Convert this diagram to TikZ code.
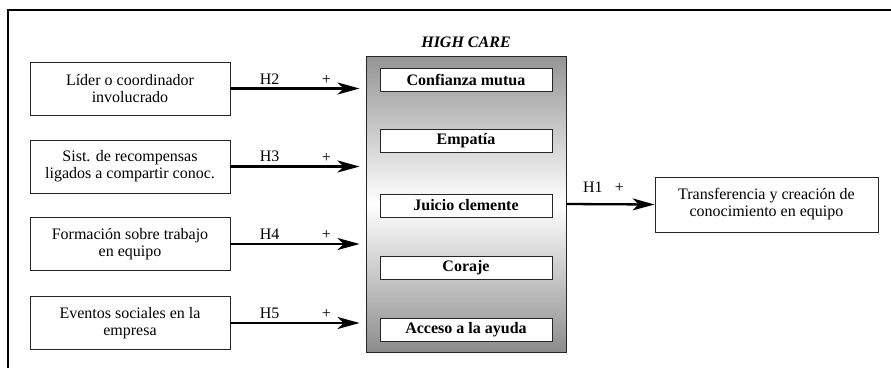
\documentclass[tikz,border=0pt]{standalone}
\usepackage{fontspec}
\setmainfont{Liberation Serif}
\usetikzlibrary{arrows.meta,positioning}
\begin{document}
\begin{tikzpicture}[x=1pt,y=-1pt,font=\fontsize{16}{17}\selectfont]
	\tikzstyle{cause}=[draw=black!85, line width=0.9pt, minimum width=200pt, minimum height=53pt, align=center, inner sep=2pt]
	\tikzstyle{facet}=[draw=black!85, line width=0.9pt, fill=white, minimum width=172pt, minimum height=23pt, inner sep=1pt, font=\fontsize{16}{17}\selectfont\bfseries]
	\tikzstyle{link}=[-{Stealth[length=22pt,width=12pt,inset=6pt]}, line width=2.3pt]
	\useasboundingbox (0,0) rectangle (891,368);
	\draw[line width=1.1pt] (8,368) -- (8,10) -- (891,10);
	% causes on the left
	\node[cause] (c2) at (130,88.5) {Líder o coordinador\\involucrado};
	\node[cause] (c3) at (130,166.5) {Sist. de recompensas\\ligados a compartir conoc.};
	\node[cause] (c4) at (130,244) {Formación sobre trabajo\\en equipo};
	\node[cause] (c5) at (130,323) {Eventos sociales en la\\empresa};
	% high care block
	\node[draw=black!85, line width=0.9pt, minimum width=200pt, minimum height=296pt, top color=black!42, bottom color=black!45, middle color=white] (care) at (466,204) {};
	\node[font=\fontsize{16}{17}\selectfont\bfseries\itshape, above=4pt of care.north] (title) {HIGH CARE};
	\node[facet] (f1) at (466,79.5) {Confianza mutua};
	\node[facet] (f2) at (466,140.5) {Empatía};
	\node[facet] (f3) at (466,205.5) {Juicio clemente};
	\node[facet] (f4) at (466,268) {Coraje};
	\node[facet] (f5) at (466,330) {Acceso a la ayuda};
	% outcome
	\node[cause, minimum width=223pt, minimum height=55pt] (out) at (766.5,204.5) {Transferencia y creación de\\conocimiento en equipo};
	\foreach \i in {2,...,5}{
		\draw[link, shorten >=6pt] (c\i.east) -- (c\i.east -| care.west)
			node[pos=0.29, above=0pt] {H\i} node[pos=0.71, above=0pt] {+};
		}
	\draw[link] (care.east) -- (out.west)
		node[pos=0.3, above=7pt] {H1} node[pos=0.6, above=7pt] {+};
\end{tikzpicture}
\end{document}
